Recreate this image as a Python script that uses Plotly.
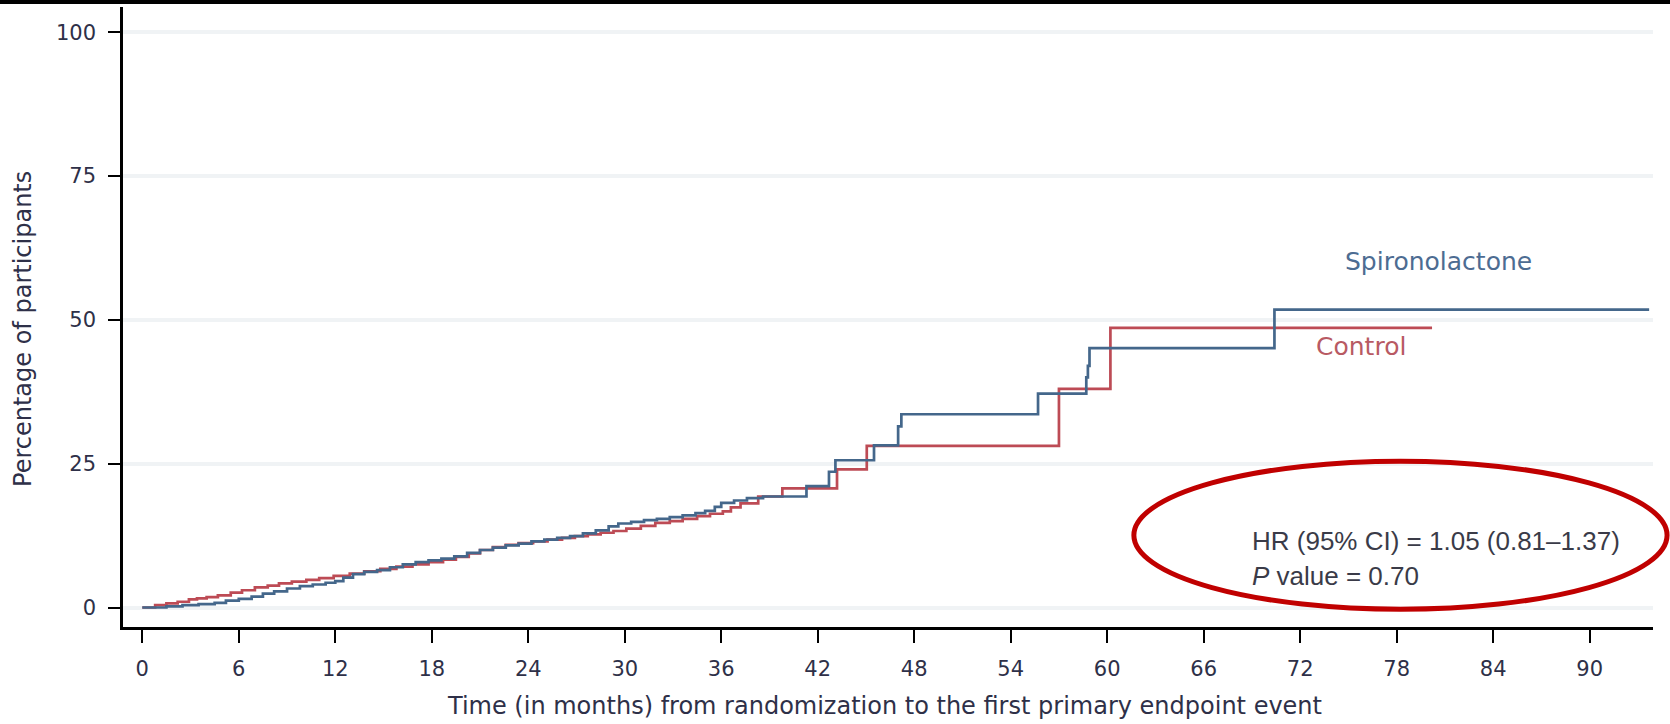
import plotly.graph_objects as go

# Cumulative incidence of the first primary endpoint event (%), step functions
spiro_months = [0.0, 1.5, 2.5, 3.5, 4.5, 5.2, 6.0, 6.8, 7.5, 8.2, 9.0, 9.8, 10.6, 11.4,
                12.0, 12.5, 13.1, 13.8, 14.6, 15.4, 16.2, 17.0, 17.8, 18.6, 19.4, 20.2,
                21.0, 21.8, 22.6, 23.4, 24.2, 25.0, 25.8, 26.6, 27.4, 28.2, 29.0, 29.6,
                30.4, 31.2, 32.0, 32.8, 33.6, 34.4, 35.0, 35.6, 36.0, 36.8, 37.6, 38.6,
                41.3, 42.7, 43.1, 45.5, 47.0, 47.2, 55.7, 58.7, 58.8, 58.9, 70.4, 93.7]
spiro_pct = [0.0, 0.2, 0.4, 0.6, 0.8, 1.2, 1.5, 1.9, 2.4, 2.8, 3.3, 3.7, 4.0, 4.3,
             4.6, 5.2, 5.8, 6.2, 6.5, 7.0, 7.5, 7.9, 8.2, 8.5, 8.9, 9.5,
             10.0, 10.4, 10.8, 11.1, 11.5, 11.8, 12.1, 12.4, 12.9, 13.4, 14.1, 14.6,
             14.9, 15.2, 15.4, 15.7, 16.0, 16.4, 16.8, 17.5, 18.2, 18.6, 19.0, 19.3,
             21.1, 23.6, 25.6, 28.2, 31.5, 33.6, 37.2, 40.0, 42.0, 45.1, 51.8, 51.8]

control_months = [0.0, 0.8, 1.5, 2.2, 2.9, 3.4, 4.0, 4.7, 5.5, 6.2, 7.0, 7.8, 8.5, 9.3,
                  10.2, 11.0, 11.9, 12.9, 13.8, 14.8, 15.8, 16.8, 17.8, 18.7, 19.5, 20.3,
                  21.0, 21.8, 22.6, 23.4, 24.3, 25.2, 26.1, 26.9, 27.7, 28.5, 29.3, 30.1,
                  31.0, 31.9, 32.8, 33.6, 34.5, 35.3, 36.1, 36.6, 37.2, 38.3, 39.8, 43.2,
                  45.05, 57.0, 60.2, 80.2]
control_pct = [0.0, 0.4, 0.7, 1.0, 1.4, 1.6, 1.8, 2.1, 2.6, 3.0, 3.5, 3.8, 4.2, 4.5,
               4.8, 5.1, 5.5, 5.9, 6.3, 6.7, 7.1, 7.5, 7.9, 8.3, 8.8, 9.4,
               10.0, 10.5, 10.9, 11.2, 11.5, 11.8, 12.1, 12.4, 12.7, 13.0, 13.3, 13.7,
               14.2, 14.7, 15.0, 15.4, 15.9, 16.3, 16.7, 17.4, 18.1, 19.3, 20.7, 24.0,
               28.1, 38.0, 48.6, 48.6]

x_ticks = [0, 6, 12, 18, 24, 30, 36, 42, 48, 54, 60, 66, 72, 78, 84, 90]
y_ticks = [0, 25, 50, 75, 100]

BLUE = "#44678b"
RED = "#bd4b55"
TEXT = "#2e3048"
AXIS_FONT = "DejaVu Sans"

fig = go.Figure()
fig.add_trace(go.Scatter(x=control_months, y=control_pct, mode="lines",
                         line=dict(color=RED, width=2.7, shape="hv"),
                         name="Control", showlegend=False))
fig.add_trace(go.Scatter(x=spiro_months, y=spiro_pct, mode="lines",
                         line=dict(color=BLUE, width=2.7, shape="hv"),
                         name="Spironolactone", showlegend=False))

# Curve labels
fig.add_annotation(x=80.6, y=60.2, text="Spironolactone", showarrow=False,
                   font=dict(family=AXIS_FONT, size=25, color="#4d6c92"))
fig.add_annotation(x=75.8, y=45.3, text="Control", showarrow=False,
                   font=dict(family=AXIS_FONT, size=25, color="#b85a63"))

# Hazard ratio box
fig.add_annotation(x=68.9, y=11.6, text="HR (95% CI) = 1.05 (0.81\u20131.37)",
                   showarrow=False, xanchor="left",
                   font=dict(family="Liberation Sans", size=26, color="#3a3b48"))
fig.add_annotation(x=68.9, y=5.5, text="<i>P</i> value = 0.70",
                   showarrow=False, xanchor="left",
                   font=dict(family="Liberation Sans", size=26, color="#3a3b48"))

# Red ring around the statistics
fig.add_shape(type="circle", xref="paper", yref="paper",
              x0=0.6607, x1=1.0092, y0=0.0286, y1=0.2674,
              line=dict(color="#c00000", width=5))

# Dark band along the top edge
fig.add_shape(type="rect", xref="paper", yref="paper",
              x0=-0.1, x1=1.1, y0=1.0048, y1=1.03,
              line=dict(width=0), fillcolor="black")

# Axis titles
fig.add_annotation(xref="paper", yref="paper", x=-0.0654, y=0.4806,
                   xanchor="center", yanchor="middle",
                   text="Percentage of participants", textangle=-90, showarrow=False,
                   font=dict(family=AXIS_FONT, size=24, color=TEXT))
fig.add_annotation(xref="paper", yref="paper", x=0.4974, y=-0.1274,
                   xanchor="center", yanchor="middle",
                   text="Time (in months) from randomization to the first primary endpoint event",
                   showarrow=False,
                   font=dict(family=AXIS_FONT, size=24, color=TEXT))

fig.update_layout(
    width=1670, height=724,
    margin=dict(l=123, r=17, t=7, b=97),
    plot_bgcolor="white", paper_bgcolor="white",
    font=dict(family=AXIS_FONT, color=TEXT),
    xaxis=dict(range=[-1.2, 93.94], tickvals=x_ticks, ticks="outside", ticklen=13,
               tickwidth=2, tickcolor="black", showline=True, linecolor="black",
               linewidth=2.5, showgrid=False, zeroline=False, ticklabelstandoff=8,
               tickfont=dict(family=AXIS_FONT, size=21, color=TEXT)),
    yaxis=dict(range=[-3.39, 104.4], tickvals=y_ticks, ticks="outside", ticklen=12,
               tickwidth=2, tickcolor="black", showline=True, linecolor="black",
               linewidth=2.5, showgrid=True, gridcolor="#f0f3f5", gridwidth=4,
               zeroline=False, ticklabelstandoff=8,
               tickfont=dict(family=AXIS_FONT, size=21, color=TEXT)),
)

fig.write_html("out.html")
